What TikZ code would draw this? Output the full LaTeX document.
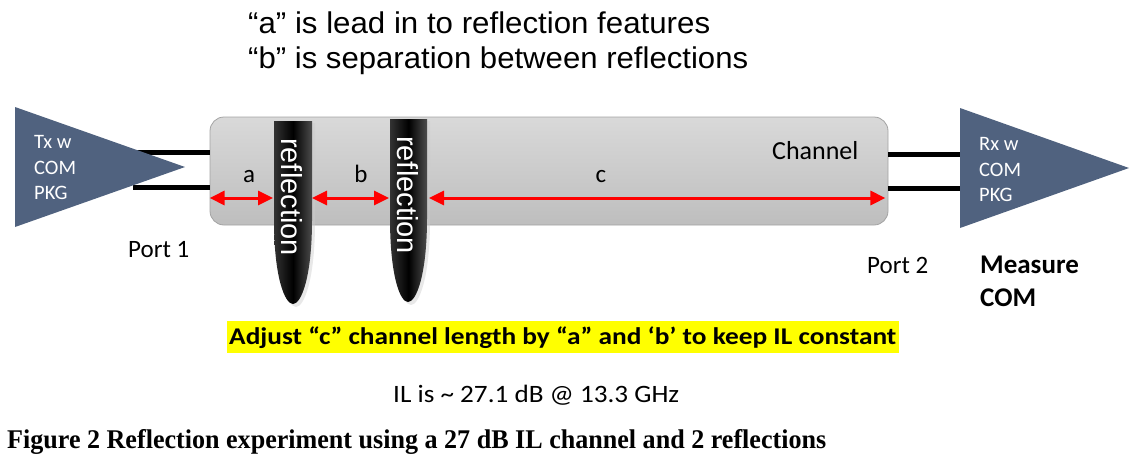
\documentclass[tikz,border=0pt]{standalone}
\usepackage{fontspec}
\usepackage{graphicx}
\usetikzlibrary{arrows.meta}
\newfontfamily\calib{Carlito}
\newfontfamily\arialf{Liberation Sans}
\newfontfamily\timesf{Liberation Serif}
\definecolor{tri}{HTML}{50627F}
\definecolor{chtop}{HTML}{D9D9D9}
\definecolor{chbot}{HTML}{BEBEBE}
\definecolor{chline}{HTML}{A3A3A3}
\definecolor{hl}{HTML}{FFFF00}
\definecolor{redarr}{HTML}{FF0000}
\tikzset{
  chanbox/.style={draw=chline, line width=0.8pt, top color=chtop, bottom color=chbot, rounded corners=14pt, minimum width=678pt, minimum height=108pt, inner sep=0pt},
  wire/.style={line width=5pt, black},
  redline/.style={line width=3pt, redarr, {Triangle[length=15pt,width=14pt]}-{Triangle[length=15pt,width=14pt]}},
  reflshape/.style={left color=black!80, right color=black!70, middle color=black},
  refltext/.style={rotate=-90, text=white, font=\arialf\fontsize{29}{34}\selectfont, inner sep=0pt},
  caltext/.style={font=\calib\fontsize{25}{30}\selectfont, inner sep=0pt},
  pkgtext/.style={font=\calib\fontsize{20.5}{25.5}\selectfont, text=white, inner sep=0pt, anchor=base west},
}
\begin{document}
\begin{tikzpicture}[x=1pt,y=-1pt]
\useasboundingbox (0,0) rectangle (1145,469);

% top text
\node[anchor=base west, inner sep=0pt, font=\arialf\fontsize{30}{36}\selectfont] (t1) at (248,33) {\resizebox{462pt}{\height}{“a” is lead in to reflection features}};
\node[anchor=base west, inner sep=0pt, font=\arialf\fontsize{30}{36}\selectfont] (t2) at (248,68) {\resizebox{500pt}{\height}{“b” is separation between reflections}};

% channel
\node[chanbox] (ch) at (549,171) {};

% Tx triangle
\coordinate (txT) at (15,107);
\coordinate (txB) at (15,227);
\coordinate (txP) at (185,167);
\coordinate (tx1) at (133,152);
\coordinate (tx2) at (133,187);
\draw[wire] (tx1) -- (tx1 -| ch.west);
\draw[wire] (tx2) -- (tx2 -| ch.west);
\fill[tri] (txT) -- (txP) -- (txB) -- cycle;
\node[pkgtext] (txa) at (34,148) {Tx w};
\node[pkgtext] (txb) at (34,174) {COM};
\node[pkgtext] (txc) at (34,199.5) {PKG};

% Rx triangle
\coordinate (rxT) at (960,108);
\coordinate (rxB) at (960,228);
\coordinate (rxP) at (1129,168);
\coordinate (rx1) at (965,154);
\coordinate (rx2) at (965,188);
\draw[wire] (ch.east |- rx1) -- (rx1);
\draw[wire] (ch.east |- rx2) -- (rx2);
\fill[tri] (rxT) -- (rxP) -- (rxB) -- cycle;
\node[pkgtext] (rxa) at (979,150) {Rx w};
\node[pkgtext] (rxb) at (979,176) {COM};
\node[pkgtext] (rxc) at (979,201) {PKG};

% reflections
\fill[black!20, opacity=0.45] (276,123) -- (315,123) -- (315,222) .. controls (315,280) and (304,307) .. (296,307) .. controls (288,307) and (276,280) .. (276,222) -- cycle;
\shade[reflshape] (274,121) -- (312,121) -- (312,220) .. controls (312,278) and (301,304) .. (293,304) .. controls (285,304) and (274,278) .. (274,220) -- cycle;
\fill[black!20, opacity=0.45] (392,121) -- (430,121) -- (430,220) .. controls (430,278) and (419,305) .. (411,305) .. controls (403,305) and (392,278) .. (392,220) -- cycle;
\shade[reflshape] (390,119) -- (427,119) -- (427,218) .. controls (427,276) and (416,302) .. (408,302) .. controls (400,302) and (390,276) .. (390,218) -- cycle;
\node[refltext] (r1) at (292,197) {reflection};
\node[refltext] (r2) at (408,195) {reflection};
\coordinate (r1w) at (273,198);
\coordinate (r1e) at (312,198);
\coordinate (r2w) at (389,198);
\coordinate (r2e) at (429,198);

% arrows
\draw[redline] (ch.west |- r1w) -- (r1w);
\draw[redline] (r1e) -- (r2w);
\draw[redline] (r2e) -- ([xshift=-3pt]ch.east |- r2e);
\node[caltext, anchor=base] (la) at (249,182) {a};
\node[caltext, anchor=base] (lb) at (361,182) {b};
\node[caltext, anchor=base] (lc) at (601,182) {c};
\node[caltext, anchor=base west, font=\calib\fontsize{26}{30}\selectfont] (chl) at (772,159) {Channel};

% ports
\node[caltext, anchor=base west] (p1) at (128,257) {Port 1};
\node[caltext, anchor=base west] (p2) at (867,273) {Port 2};
\node[caltext, anchor=base west, font=\calib\bfseries\fontsize{27}{30}\selectfont] (m1) at (980,273) {Measure};
\node[caltext, anchor=base west, font=\calib\bfseries\fontsize{27}{30}\selectfont] (m2) at (980,306) {COM};

% highlight
\fill[hl] (227,321) rectangle (899,353);
\node[anchor=base west, inner sep=0pt, font=\calib\bfseries\fontsize{24}{28}\selectfont] (adj) at (229,344) {\resizebox{667pt}{\height}{Adjust “c” channel length by “a” and ‘b’ to keep IL constant}};

\node[anchor=base west, inner sep=0pt, font=\calib\fontsize{25}{30}\selectfont] (il) at (393,402) {\resizebox{286pt}{\height}{IL is \textasciitilde{} 27.1 dB @ 13.3 GHz}};

% caption
\node[anchor=base west, inner sep=0pt, font=\timesf\bfseries\fontsize{27}{30}\selectfont] (cap) at (7,448) {\resizebox{819pt}{\height}{Figure 2 Reflection experiment using a 27 dB IL channel and 2 reflections}};
\end{tikzpicture}
\end{document}
